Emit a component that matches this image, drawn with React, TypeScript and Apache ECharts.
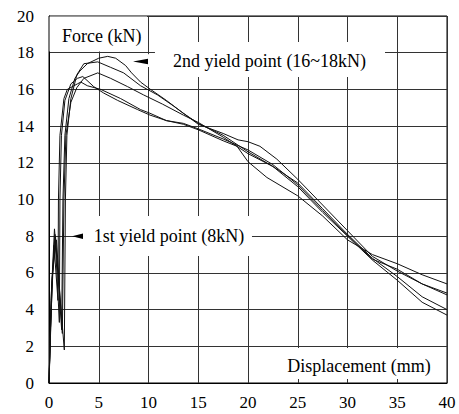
import React, { useEffect, useRef } from "react";
import * as echarts from "echarts";

// Displacement (mm), Force (kN) pairs for each specimen
const specimen1: [number, number][] = [
  [0, 0], [0.3, 5.5], [0.65, 8.0], [1.27, 2.9], [1.4, 10], [1.6, 13.5], [2.0, 15.5], [2.6, 16.6],
  [3.1, 17.0], [3.85, 17.4], [5.0, 17.7], [5.9, 17.8], [6.7, 17.7], [7.7, 17.3], [8.3, 16.9],
  [9.2, 16.4], [10.2, 16.0], [11.8, 15.4], [13.5, 14.7], [15, 14.15], [17.5, 13.5], [20, 12.6],
  [22.5, 11.8], [25, 10.9], [27.5, 9.5], [30, 8.1], [32.5, 6.8], [35, 5.8], [37.5, 4.7], [40, 4.0],
];
const specimen2: [number, number][] = [
  [0, 0], [0.2, 4.5], [0.55, 8.4], [1.54, 1.8], [1.65, 10], [1.8, 13.5], [2.2, 15.5], [2.8, 16.8],
  [3.5, 17.4], [4.9, 17.5], [6.2, 17.2], [7.5, 16.9], [9.2, 16.2], [10.9, 15.7], [12.5, 15.1],
  [15, 14.1], [17.5, 13.6], [19, 13.25], [20, 13.15], [21.2, 12.9], [22.9, 12.2], [25, 11.1],
  [27.5, 9.7], [30, 8.3], [32.5, 6.9], [35, 6.1], [37.5, 5.4], [40, 4.9],
];
const specimen3: [number, number][] = [
  [0, 0], [0.35, 6.0], [0.75, 7.8], [1.34, 2.7], [1.5, 10], [1.7, 13.5], [2.2, 15.3], [2.8, 16.1],
  [3.5, 16.6], [4.9, 16.9], [6.2, 16.6], [7.9, 16.15], [9.5, 15.7], [11.4, 15.2], [13.5, 14.6],
  [15, 14.2], [17.5, 13.4], [20, 12.5], [22.5, 11.8], [25, 10.7], [27.5, 9.3], [30, 8.0],
  [32.5, 6.7], [35, 5.6], [37.5, 4.4], [40, 3.7],
];
const specimen4: [number, number][] = [
  [0, 0], [0.25, 5.0], [0.6, 8.1], [1.04, 3.3], [1.1, 10], [1.25, 13.5], [1.6, 15.4], [2.2, 16.3],
  [2.85, 16.6], [3.4, 16.7], [4.5, 16.15], [5.5, 15.8], [6.9, 15.4], [8.9, 14.9], [10.15, 14.6],
  [11.8, 14.3], [13.5, 14.1], [15, 13.8], [17.5, 13.2], [18.9, 12.9], [20, 12.06], [21.9, 11.2],
  [25, 10.2], [27.5, 9.1], [30, 7.8], [32.5, 7.0], [35, 6.5], [37.5, 5.9], [40, 5.4],
];
const specimen5: [number, number][] = [
  [0, 0], [0.15, 3.0], [0.5, 7.5], [0.9, 4.5], [0.95, 10], [1.1, 13.5], [1.5, 15.5], [1.84, 16.0],
  [2.85, 16.3], [3.2, 16.4], [3.85, 16.2], [5.2, 16.0], [7.2, 15.5], [9.2, 14.9], [10.15, 14.7],
  [11.8, 14.3], [13.5, 14.15], [15, 13.85], [17.5, 13.3], [20, 12.7], [22.5, 11.9], [25, 10.8],
  [27.5, 9.4], [30, 8.05], [32.5, 6.75], [35, 6.2], [37.5, 5.4], [40, 4.8],
];
const specimens = [specimen1, specimen2, specimen3, specimen4, specimen5];

const xRange = [0, 40, 5]; // min, max, interval
const yRange = [0, 20, 2];

const forceLabel = "Force (kN)";
const dispLabel = "Displacement (mm)";
const yield1Label = "1st yield point (8kN)";
const yield2Label = "2nd yield point (16~18kN)";

const FONT = "Liberation Serif";

export default function App() {
  const ref = useRef<HTMLDivElement>(null);
  useEffect(() => {
    if (!ref.current) return;
    const chart = echarts.init(ref.current, undefined, { renderer: "svg" });
    chart.setOption({
      animation: false,
      backgroundColor: "#fff",
      grid: {
        left: 49, right: 12, top: 16, bottom: 31,
        show: true, borderColor: "#000", borderWidth: 1, backgroundColor: "transparent",
      },
      xAxis: {
        type: "value", min: xRange[0], max: xRange[1], interval: xRange[2],
        axisLine: { show: true, lineStyle: { color: "#000", width: 1 } },
        axisTick: { show: false },
        axisLabel: { color: "#000", fontFamily: FONT, fontSize: 17, margin: 11 },
        splitLine: { show: true, lineStyle: { color: "#333", width: 1 } },
      },
      yAxis: {
        type: "value", min: yRange[0], max: yRange[1], interval: yRange[2],
        axisLine: { show: true, lineStyle: { color: "#000", width: 1 } },
        axisTick: { show: false },
        axisLabel: { color: "#000", fontFamily: FONT, fontSize: 17, margin: 15 },
        splitLine: { show: true, lineStyle: { color: "#333", width: 1 } },
      },
      series: specimens.map((d) => ({
        type: "line",
        data: d,
        showSymbol: false,
        symbol: "none",
        lineStyle: { color: "#111", width: 1 },
        z: 3,
      })),
    });

    const p = (x: number, y: number) =>
      chart.convertToPixel({ xAxisIndex: 0, yAxisIndex: 0 }, [x, y]) as number[];
    const rect = (x0: number, y0: number, x1: number, y1: number) => {
      const a = p(x0, y1);
      const b = p(x1, y0);
      return {
        type: "rect", z: 100,
        shape: { x: a[0], y: a[1], width: b[0] - a[0], height: b[1] - a[1] },
        style: { fill: "#fff" },
      };
    };
    const text = (s: string, x: number, y: number) => {
      const c = p(x, y);
      return {
        type: "text", z: 102, x: c[0], y: c[1],
        style: { text: s, fontFamily: FONT, fontSize: 18, fill: "#000", align: "center", verticalAlign: "middle" },
      };
    };
    const arrow = (tipX: number, baseX: number, y: number) => {
      const t = p(tipX, y);
      const b = p(baseX, y);
      return {
        type: "polygon", z: 103,
        shape: { points: [[t[0], t[1]], [b[0], b[1] - 2.7], [b[0], b[1] + 2.7]] },
        style: { fill: "#000" },
      };
    };

    chart.setOption({
      graphic: [
        rect(0.05, 18.06, 9.85, 19.97),
        text(forceLabel, 5.3, 18.9),
        rect(10.65, 16.68, 33.77, 18.58),
        rect(9.75, 17.22, 10.25, 17.92),
        text(yield2Label, 22.16, 17.55),
        arrow(8.44, 9.95, 17.52),
        rect(3.42, 6.92, 20.4, 9.1),
        text(yield1Label, 12.06, 8.0),
        arrow(2.31, 3.42, 8.0),
        rect(20.2, 0.22, 39.9, 1.91),
        text(dispLabel, 31.16, 0.93),
      ],
    });

    return () => chart.dispose();
  }, []);
  return (
    <div
      ref={ref}
      style={{ position: "fixed", left: 0, top: 0, width: 459, height: 414, background: "#fff" }}
    />
  );
}
